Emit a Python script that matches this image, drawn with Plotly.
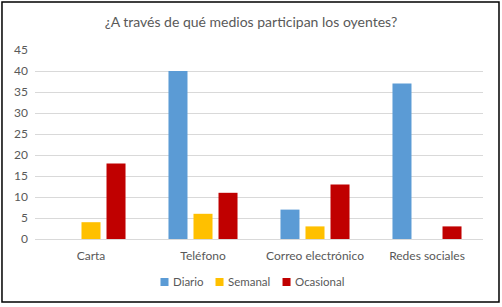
import plotly.graph_objects as go

categories = ["Carta", "Teléfono", "Correo electrónico", "Redes sociales"]
diario = [0, 40, 7, 37]
semanal = [4, 6, 3, 0]
ocasional = [18, 11, 13, 3]
y_ticks = [0, 5, 10, 15, 20, 25, 30, 35, 40, 45]

series_names = ["Diario", "Semanal", "Ocasional"]
series_values = [diario, semanal, ocasional]
series_colors = ["#5B9BD5", "#FFC000", "#C00000"]

# legend layout (paper coordinates) - decoration only
legend_square_x = [0.2801, 0.4029, 0.5525]
legend_square_w = 0.0179
legend_text_gap = 0.0067
legend_y0, legend_y1, legend_ty = -0.2487, -0.2063, -0.2275

fig = go.Figure()
for name, vals, col in zip(series_names, series_values, series_colors):
    fig.add_trace(go.Bar(
        x=categories, y=vals, name=name,
        marker=dict(color=col, line=dict(width=0)),
    ))

shapes = [dict(type="rect", xref="paper", yref="paper",
               x0=-0.0737, x1=1.0357, y0=-0.333, y1=1.254,
               line=dict(color="#000000", width=1.5), fillcolor="rgba(0,0,0,0)",
               layer="below")]
annotations = []
for name, col, sx in zip(series_names, series_colors, legend_square_x):
    shapes.append(dict(type="rect", xref="paper", yref="paper",
                       x0=sx, x1=sx + legend_square_w, y0=legend_y0, y1=legend_y1,
                       line=dict(width=0), fillcolor=col))
    annotations.append(dict(text=name, xref="paper", yref="paper",
                            x=sx + legend_square_w + legend_text_gap, y=legend_ty,
                            xanchor="left", yanchor="middle", showarrow=False,
                            borderpad=0, font=dict(size=11.5, color="#595959")))

font_family = "Lato, 'Open Sans', sans-serif"
fig.update_layout(
    width=502, height=307,
    margin=dict(l=35, r=19, t=50, b=68, autoexpand=False),
    paper_bgcolor="white", plot_bgcolor="white",
    barmode="group", bargap=0.33, bargroupgap=0.24,
    font=dict(family=font_family, size=12, color="#595959"),
    title=dict(text="¿A través de qué medios participan los oyentes?",
               x=0.5, xanchor="center", y=0.928, yanchor="middle",
               font=dict(size=14, color="#595959")),
    showlegend=False,
    xaxis=dict(showgrid=False, showline=True, linecolor="#D9D9D9", linewidth=1,
               ticks="", ticklabelstandoff=6, tickfont=dict(size=12, color="#595959")),
    yaxis=dict(range=[0, 45], tickvals=y_ticks, showgrid=True, gridcolor="#D9D9D9",
               gridwidth=1, zeroline=False, showline=False, ticks="",
               ticklabelstandoff=6, tickfont=dict(size=12, color="#595959")),
    shapes=shapes,
    annotations=annotations,
)

fig.write_html("out.html", config={"displayModeBar": False})
with open("out.html", "r", encoding="utf-8") as f:
    html = f.read()
html = html.replace("<body>", "<body style=\"margin:0;padding:0;overflow:hidden;\">", 1)
with open("out.html", "w", encoding="utf-8") as f:
    f.write(html)
